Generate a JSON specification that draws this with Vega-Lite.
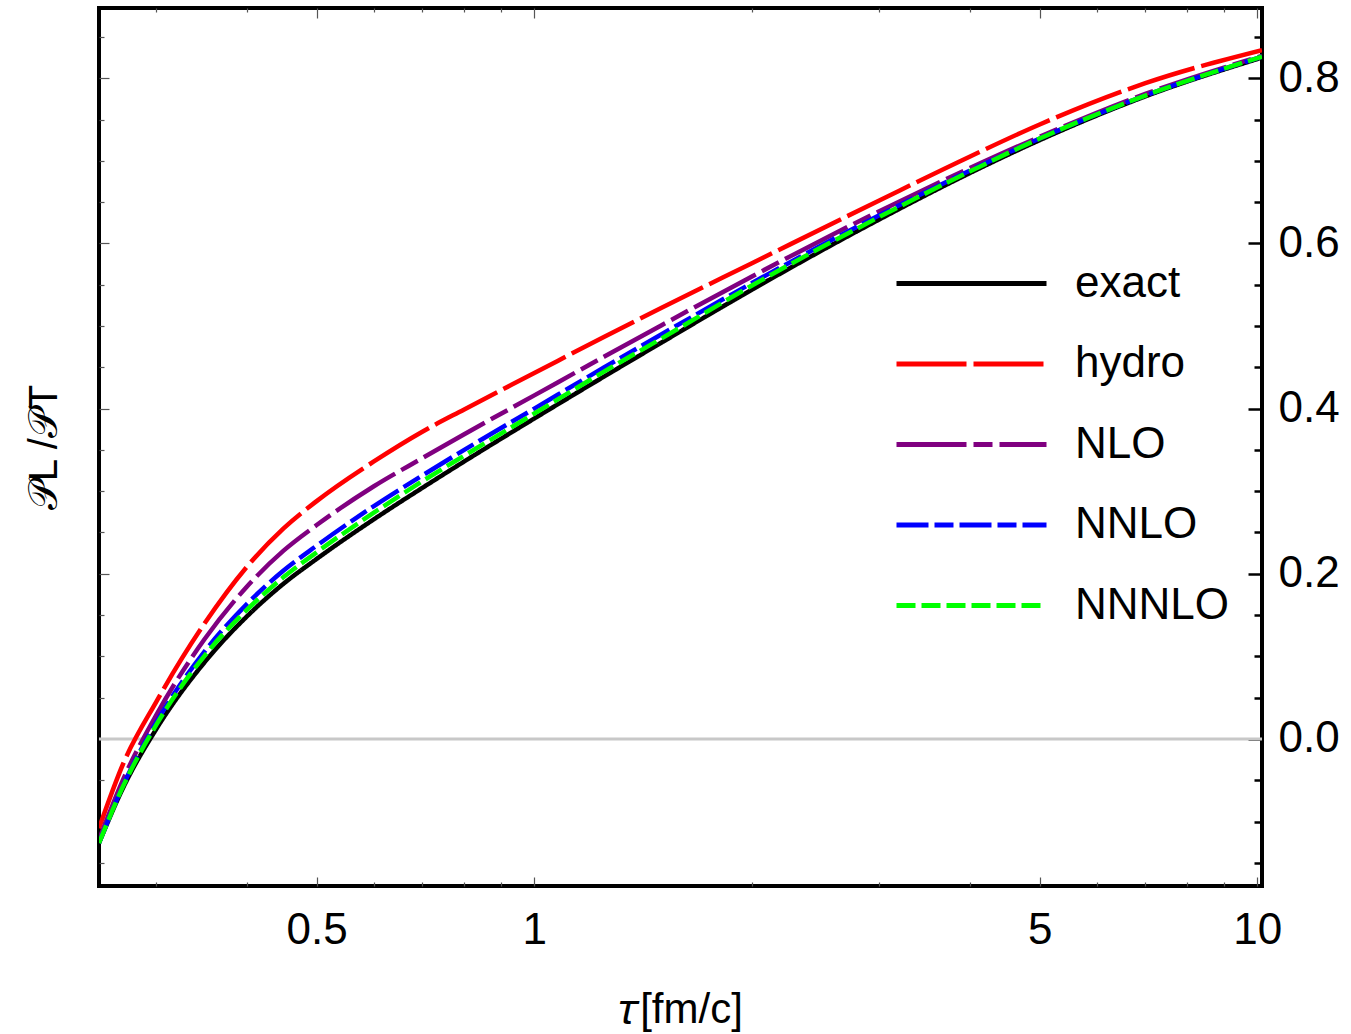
{
  "$schema": "https://vega.github.io/schema/vega-lite/v6.json",
  "width": 1163,
  "height": 878,
  "autosize": {"type": "none"},
  "padding": {"left": 99, "top": 8, "right": 89, "bottom": 148},
  "background": "white",
  "config": {
    "view": {"stroke": "black", "strokeWidth": 4},
    "font": "Liberation Sans",
    "axis": {"grid": false, "domain": false, "labelFont": "Liberation Sans", "titleFont": "Liberation Sans", "labelColor": "black", "titleColor": "black", "titleFontWeight": "normal"}
  },
  "data": {"values": [
    {"tau": 0.25, "ratio": -0.126, "model": "exact"},
    {"tau": 0.27, "ratio": -0.059, "model": "exact"},
    {"tau": 0.3, "ratio": 0.012, "model": "exact"},
    {"tau": 0.35, "ratio": 0.093, "model": "exact"},
    {"tau": 0.4, "ratio": 0.148, "model": "exact"},
    {"tau": 0.45, "ratio": 0.188, "model": "exact"},
    {"tau": 0.5, "ratio": 0.218, "model": "exact"},
    {"tau": 0.6, "ratio": 0.266, "model": "exact"},
    {"tau": 0.7, "ratio": 0.304, "model": "exact"},
    {"tau": 0.8, "ratio": 0.336, "model": "exact"},
    {"tau": 1.0, "ratio": 0.388, "model": "exact"},
    {"tau": 1.25, "ratio": 0.439, "model": "exact"},
    {"tau": 1.5, "ratio": 0.48, "model": "exact"},
    {"tau": 2.0, "ratio": 0.544, "model": "exact"},
    {"tau": 3.0, "ratio": 0.629, "model": "exact"},
    {"tau": 4.0, "ratio": 0.685, "model": "exact"},
    {"tau": 5.0, "ratio": 0.725, "model": "exact"},
    {"tau": 7.0, "ratio": 0.778, "model": "exact"},
    {"tau": 10.15, "ratio": 0.825, "model": "exact"},

    {"tau": 0.25, "ratio": -0.108, "model": "hydro"},
    {"tau": 0.27, "ratio": -0.03, "model": "hydro"},
    {"tau": 0.3, "ratio": 0.045, "model": "hydro"},
    {"tau": 0.35, "ratio": 0.14, "model": "hydro"},
    {"tau": 0.4, "ratio": 0.208, "model": "hydro"},
    {"tau": 0.45, "ratio": 0.255, "model": "hydro"},
    {"tau": 0.5, "ratio": 0.288, "model": "hydro"},
    {"tau": 0.6, "ratio": 0.336, "model": "hydro"},
    {"tau": 0.7, "ratio": 0.372, "model": "hydro"},
    {"tau": 0.8, "ratio": 0.399, "model": "hydro"},
    {"tau": 1.0, "ratio": 0.443, "model": "hydro"},
    {"tau": 1.25, "ratio": 0.487, "model": "hydro"},
    {"tau": 1.5, "ratio": 0.522, "model": "hydro"},
    {"tau": 2.0, "ratio": 0.576, "model": "hydro"},
    {"tau": 3.0, "ratio": 0.652, "model": "hydro"},
    {"tau": 4.0, "ratio": 0.705, "model": "hydro"},
    {"tau": 5.0, "ratio": 0.744, "model": "hydro"},
    {"tau": 7.0, "ratio": 0.794, "model": "hydro"},
    {"tau": 10.15, "ratio": 0.834, "model": "hydro"},

    {"tau": 0.25, "ratio": -0.122, "model": "NLO"},
    {"tau": 0.27, "ratio": -0.049, "model": "NLO"},
    {"tau": 0.3, "ratio": 0.029, "model": "NLO"},
    {"tau": 0.35, "ratio": 0.121, "model": "NLO"},
    {"tau": 0.4, "ratio": 0.184, "model": "NLO"},
    {"tau": 0.45, "ratio": 0.228, "model": "NLO"},
    {"tau": 0.5, "ratio": 0.259, "model": "NLO"},
    {"tau": 0.6, "ratio": 0.306, "model": "NLO"},
    {"tau": 0.7, "ratio": 0.34, "model": "NLO"},
    {"tau": 0.8, "ratio": 0.369, "model": "NLO"},
    {"tau": 1.0, "ratio": 0.416, "model": "NLO"},
    {"tau": 1.25, "ratio": 0.463, "model": "NLO"},
    {"tau": 1.5, "ratio": 0.501, "model": "NLO"},
    {"tau": 2.0, "ratio": 0.56, "model": "NLO"},
    {"tau": 3.0, "ratio": 0.639, "model": "NLO"},
    {"tau": 4.0, "ratio": 0.691, "model": "NLO"},
    {"tau": 5.0, "ratio": 0.729, "model": "NLO"},
    {"tau": 7.0, "ratio": 0.781, "model": "NLO"},
    {"tau": 10.15, "ratio": 0.827, "model": "NLO"},

    {"tau": 0.25, "ratio": -0.126, "model": "NNLO"},
    {"tau": 0.27, "ratio": -0.056, "model": "NNLO"},
    {"tau": 0.3, "ratio": 0.02, "model": "NNLO"},
    {"tau": 0.35, "ratio": 0.106, "model": "NNLO"},
    {"tau": 0.4, "ratio": 0.163, "model": "NNLO"},
    {"tau": 0.45, "ratio": 0.204, "model": "NNLO"},
    {"tau": 0.5, "ratio": 0.234, "model": "NNLO"},
    {"tau": 0.6, "ratio": 0.282, "model": "NNLO"},
    {"tau": 0.7, "ratio": 0.319, "model": "NNLO"},
    {"tau": 0.8, "ratio": 0.35, "model": "NNLO"},
    {"tau": 1.0, "ratio": 0.4, "model": "NNLO"},
    {"tau": 1.25, "ratio": 0.45, "model": "NNLO"},
    {"tau": 1.5, "ratio": 0.49, "model": "NNLO"},
    {"tau": 2.0, "ratio": 0.552, "model": "NNLO"},
    {"tau": 3.0, "ratio": 0.634, "model": "NNLO"},
    {"tau": 4.0, "ratio": 0.688, "model": "NNLO"},
    {"tau": 5.0, "ratio": 0.727, "model": "NNLO"},
    {"tau": 7.0, "ratio": 0.779, "model": "NNLO"},
    {"tau": 10.15, "ratio": 0.826, "model": "NNLO"},

    {"tau": 0.25, "ratio": -0.126, "model": "NNNLO"},
    {"tau": 0.27, "ratio": -0.057, "model": "NNNLO"},
    {"tau": 0.3, "ratio": 0.017, "model": "NNNLO"},
    {"tau": 0.35, "ratio": 0.101, "model": "NNNLO"},
    {"tau": 0.4, "ratio": 0.156, "model": "NNNLO"},
    {"tau": 0.45, "ratio": 0.196, "model": "NNNLO"},
    {"tau": 0.5, "ratio": 0.226, "model": "NNNLO"},
    {"tau": 0.6, "ratio": 0.274, "model": "NNNLO"},
    {"tau": 0.7, "ratio": 0.312, "model": "NNNLO"},
    {"tau": 0.8, "ratio": 0.343, "model": "NNNLO"},
    {"tau": 1.0, "ratio": 0.394, "model": "NNNLO"},
    {"tau": 1.25, "ratio": 0.445, "model": "NNNLO"},
    {"tau": 1.5, "ratio": 0.485, "model": "NNNLO"},
    {"tau": 2.0, "ratio": 0.549, "model": "NNNLO"},
    {"tau": 3.0, "ratio": 0.632, "model": "NNNLO"},
    {"tau": 4.0, "ratio": 0.687, "model": "NNNLO"},
    {"tau": 5.0, "ratio": 0.727, "model": "NNNLO"},
    {"tau": 7.0, "ratio": 0.779, "model": "NNNLO"},
    {"tau": 10.15, "ratio": 0.826, "model": "NNNLO"}
  ]},
  "resolve": {"axis": {"x": "independent", "y": "independent"}},
  "layer": [
    {
      "data": {"values": [{"level": 0}]},
      "mark": {"type": "rule", "color": "#c8c8c8", "strokeWidth": 3},
      "encoding": {
        "y": {"field": "level", "type": "quantitative", "scale": {"domain": [-0.178, 0.885], "nice": false, "zero": false}, "axis": null}
      }
    },
    {
      "mark": {"type": "line", "strokeWidth": 4.5, "interpolate": "monotone", "clip": true},
      "encoding": {
        "x": {"field": "tau", "type": "quantitative", "scale": {"type": "log", "domain": [0.25, 10.15], "nice": false},
          "axis": {"orient": "bottom", "values": [0.5, 1, 5, 10], "format": "~g", "tickSize": -9, "tickColor": "#555555", "tickWidth": 1.2, "labelFontSize": 44, "labelPadding": 31, "title": "𝜏[fm/c]", "titleFontSize": 42, "titlePadding": 37}},
        "y": {"field": "ratio", "type": "quantitative", "scale": {"domain": [-0.178, 0.885], "nice": false, "zero": false},
          "axis": {"orient": "right", "values": [0, 0.2, 0.4, 0.6, 0.8], "format": ".1f", "tickSize": -14, "tickColor": "black", "tickWidth": 2.5, "labelFontSize": 44, "labelPadding": 30, "title": null}},
        "color": {"field": "model", "type": "nominal", "scale": {"domain": ["exact", "hydro", "NLO", "NNLO", "NNNLO"], "range": ["#000000", "#ff0000", "#800080", "#0000ff", "#00ff00"]},
          "legend": {"orient": "none", "legendX": 845, "legendY": 248, "title": null, "symbolType": "M-3,0H3", "symbolSize": 2500, "symbolStrokeWidth": 5, "labelFontSize": 44, "labelFont": "Liberation Sans", "labelColor": "black", "labelOffset": 76, "rowPadding": 30.5, "padding": 0}},
        "strokeDash": {"field": "model", "type": "nominal", "scale": {"domain": ["exact", "hydro", "NLO", "NNLO", "NNNLO"], "range": [[1, 0], [70, 7], [70, 7, 19, 7], [32, 6, 19, 6], [19, 6]]},
          "legend": {"orient": "none", "legendX": 845, "legendY": 248, "title": null, "symbolType": "M-3,0H3", "symbolSize": 2500, "symbolStrokeWidth": 5, "labelFontSize": 44, "labelFont": "Liberation Sans", "labelColor": "black", "labelOffset": 76, "rowPadding": 30.5, "padding": 0}}
      }
    },
    {
      "mark": {"type": "line", "opacity": 0},
      "encoding": {
        "x": {"field": "tau", "type": "quantitative", "scale": {"type": "log", "domain": [0.25, 10.15], "nice": false},
          "axis": {"orient": "bottom", "values": [0.3, 0.4, 0.6, 0.7, 0.8, 0.9, 2, 3, 4, 6, 7, 8, 9], "labels": false, "tickSize": -4, "tickColor": "#555555", "tickWidth": 1.2, "title": null}},
        "y": {"field": "ratio", "type": "quantitative", "scale": {"domain": [-0.178, 0.885], "nice": false, "zero": false},
          "axis": {"orient": "right", "values": [-0.15, -0.1, -0.05, 0.05, 0.1, 0.15, 0.25, 0.3, 0.35, 0.45, 0.5, 0.55, 0.65, 0.7, 0.75, 0.85], "labels": false, "tickSize": -8, "tickColor": "black", "tickWidth": 2.5, "title": null}},
        "detail": {"field": "model", "type": "nominal"}
      }
    },
    {
      "mark": {"type": "line", "opacity": 0},
      "encoding": {
        "x": {"field": "tau", "type": "quantitative", "scale": {"type": "log", "domain": [0.25, 10.15], "nice": false},
          "axis": {"orient": "top", "values": [0.5, 1, 5, 10], "labels": false, "tickSize": -10, "tickColor": "#555555", "tickWidth": 1.2, "title": null}},
        "y": {"field": "ratio", "type": "quantitative", "scale": {"domain": [-0.178, 0.885], "nice": false, "zero": false},
          "axis": {"orient": "left", "values": [0, 0.2, 0.4, 0.6, 0.8], "labels": false, "tickSize": -10, "tickColor": "#555555", "tickWidth": 1.2, "title": "𝒫L /𝒫T", "titleFontSize": 40, "titlePadding": 34}},
        "detail": {"field": "model", "type": "nominal"}
      }
    },
    {
      "mark": {"type": "line", "opacity": 0},
      "encoding": {
        "x": {"field": "tau", "type": "quantitative", "scale": {"type": "log", "domain": [0.25, 10.15], "nice": false},
          "axis": {"orient": "top", "values": [0.3, 0.4, 0.6, 0.7, 0.8, 0.9, 2, 3, 4, 6, 7, 8, 9], "labels": false, "tickSize": -4, "tickColor": "#555555", "tickWidth": 1.2, "title": null}},
        "y": {"field": "ratio", "type": "quantitative", "scale": {"domain": [-0.178, 0.885], "nice": false, "zero": false},
          "axis": {"orient": "left", "values": [-0.15, -0.1, -0.05, 0.05, 0.1, 0.15, 0.25, 0.3, 0.35, 0.45, 0.5, 0.55, 0.65, 0.7, 0.75, 0.85], "labels": false, "tickSize": -5, "tickColor": "#555555", "tickWidth": 1.2, "title": null}},
        "detail": {"field": "model", "type": "nominal"}
      }
    }
  ]
}
